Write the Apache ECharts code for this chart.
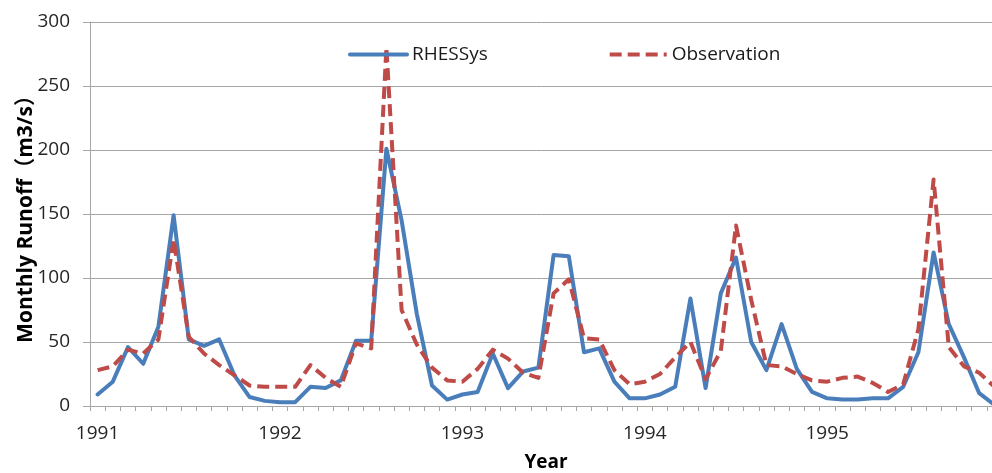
<!DOCTYPE html>
<html><head><meta charset="utf-8">
<script src="https://cdn.jsdelivr.net/npm/echarts@6/dist/echarts.min.js"></script>
<style>html,body{margin:0;padding:0;background:#fff}#c{width:992px;height:473px}</style>
</head><body><div id="c"></div>
<script>
const years = ['1991', '1992', '1993', '1994', '1995'];
const monthNames = ['01','02','03','04','05','06','07','08','09','10','11','12'];
const rhessys = [
  9, 19, 46, 33, 62, 149, 52, 47, 52, 24, 7, 4,
  3, 3, 15, 14, 20, 51, 51, 201, 145, 72, 16, 5,
  9, 11, 41, 14, 27, 30, 118, 117, 42, 45, 19, 6,
  6, 9, 15, 84, 14, 88, 116, 50, 28, 64, 29, 11,
  6, 5, 5, 6, 6, 15, 42, 120, 64, 38, 10, 1
];
const observation = [
  28, 31, 44, 41, 52, 130, 54, 41, 32, 24, 16, 15,
  15, 15, 32, 22, 15, 49, 45, 280, 75, 48, 30, 20,
  19, 29, 44, 37, 26, 22, 88, 99, 53, 52, 28, 17,
  19, 25, 38, 50, 21, 43, 141, 83, 32, 31, 25, 20,
  19, 22, 23, 18, 11, 17, 60, 177, 46, 31, 26, 15
];
const categories = [];
years.forEach(y => monthNames.forEach(m => categories.push(y + '-' + m)));

const FONT = "'Open Sans', 'Noto Sans CJK SC', sans-serif";
const GRAY = '#a6a6a6';
const chart = echarts.init(document.getElementById('c'), null, {renderer: 'canvas'});
chart.setOption({
  animation: false,
  backgroundColor: '#fff',
  textStyle: {fontFamily: FONT},
  grid: {left: 90, top: 22, height: 384, width: 912, outerBoundsMode: 'none', containLabel: false},
  legend: {
    left: 343, top: 40, itemWidth: 57, itemHeight: 14, itemGap: 120,
    textStyle: {fontSize: 19, color: '#1a1a1a', fontFamily: FONT},
    itemStyle: {color: 'transparent', borderWidth: 0, opacity: 0},
    lineStyle: {width: 4},
    data: ['RHESSys', 'Observation']
  },
  xAxis: {
    type: 'category', data: categories, boundaryGap: true,
    name: 'Year', nameLocation: 'middle', nameGap: 47, nameMoveOverlap: false,
    nameTextStyle: {fontSize: 19, fontWeight: 'bold', color: '#000', fontFamily: FONT},
    axisLine: {show: true, lineStyle: {color: GRAY, width: 1}},
    axisTick: {show: true, interval: 0, length: 5, lineStyle: {color: GRAY}},
    axisLabel: {interval: 11, margin: 18, fontSize: 19, color: '#262626', fontFamily: FONT,
      formatter: v => v.split('-')[0]},
    splitLine: {show: false}
  },
  yAxis: {
    type: 'value', min: 0, max: 300, interval: 50,
    name: 'Monthly Runoff（m3/s）', nameLocation: 'middle', nameGap: 53, nameMoveOverlap: false,
    nameTextStyle: {fontSize: 21, fontWeight: 'bold', color: '#000', fontFamily: FONT},
    axisLine: {show: true, lineStyle: {color: GRAY, width: 1}},
    axisTick: {show: true, length: 7, lineStyle: {color: GRAY}},
    axisLabel: {margin: 20, fontSize: 19, color: '#262626', fontFamily: FONT},
    splitLine: {show: true, lineStyle: {color: GRAY, width: 1}}
  },
  series: [
    {name: 'RHESSys', type: 'line', data: rhessys, symbol: 'none', showSymbol: false,
     lineStyle: {color: '#4a7ebb', width: 4, join: 'round', cap: 'round'},
     itemStyle: {color: '#4a7ebb'}},
    {name: 'Observation', type: 'line', data: observation, symbol: 'none', showSymbol: false,
     lineStyle: {color: '#be4b48', width: 4, type: [12, 6], join: 'round'},
     itemStyle: {color: '#be4b48'}}
  ]
});
</script></body></html>
